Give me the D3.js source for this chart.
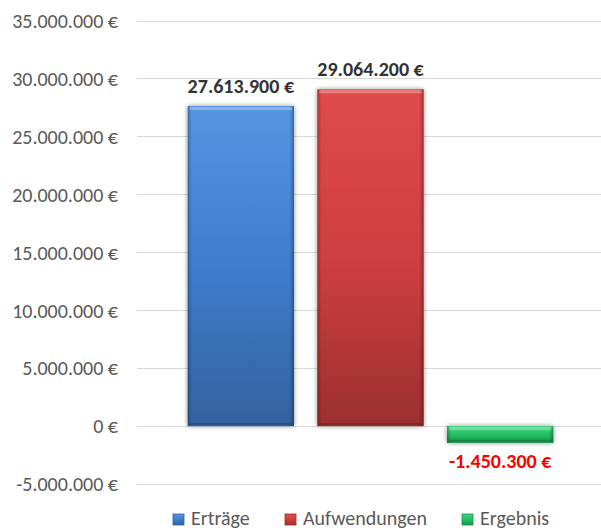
<!DOCTYPE html>
<html><head><meta charset="utf-8">
<script src="https://cdn.jsdelivr.net/npm/d3@7/dist/d3.min.js"></script>
<style>body{margin:0;background:#fff;}svg{display:block;font-family:Carlito, Calibri, Lato, sans-serif;}</style>
</head><body>
<script>
const categories = ["Erträge", "Aufwendungen", "Ergebnis"];
const values = [27613900, 29064200, -1450300];
const tickValues = [-5000000, 0, 5000000, 10000000, 15000000, 20000000, 25000000, 30000000, 35000000];
const colorsTop = ["#5595e0", "#e04a4a", "#3fd57f"];
const colorsMid = ["#3f7dcc", "#cf3f3f", "#25c066"];
const colorsBot = ["#33619f", "#9c2f2f", "#17904a"];
const labelColors = ["#333333", "#333333", "#ff0000"];

const W = 601, H = 531;
const FONT = "Carlito, Calibri, Lato, sans-serif";
const svg = d3.select("body").append("svg").attr("width", W).attr("height", H);
const y = d3.scaleLinear().domain([-5000000, 35000000]).range([484, 20.5]);
const x = d3.scaleBand().domain(categories).range([176, 565]).paddingInner(0.18).paddingOuter(0.09);

const fmt = v => {
  const s = d3.format(",.0f")(Math.abs(v)).replace(/,/g, ".");
  return (v < 0 ? "-" : "") + s + " €";
};

const defs = svg.append("defs");
categories.forEach((c, i) => {
  const g = defs.append("linearGradient").attr("id", "g" + i).attr("x1", 0).attr("x2", 0).attr("y1", 0).attr("y2", 1);
  g.append("stop").attr("offset", "0%").attr("stop-color", colorsTop[i]);
  g.append("stop").attr("offset", "50%").attr("stop-color", colorsMid[i]);
  g.append("stop").attr("offset", "100%").attr("stop-color", colorsBot[i]);
  const h = defs.append("linearGradient").attr("id", "h" + i).attr("x1", 0).attr("x2", 1).attr("y1", 0).attr("y2", 0);
  h.append("stop").attr("offset", "0%").attr("stop-color", "#000").attr("stop-opacity", 0.25);
  h.append("stop").attr("offset", "4%").attr("stop-color", "#000").attr("stop-opacity", 0);
  h.append("stop").attr("offset", "96%").attr("stop-color", "#000").attr("stop-opacity", 0);
  h.append("stop").attr("offset", "100%").attr("stop-color", "#000").attr("stop-opacity", 0.3);
});
const f = defs.append("filter").attr("id", "sh").attr("x", "-20%").attr("y", "-20%").attr("width", "140%").attr("height", "140%");
f.append("feGaussianBlur").attr("in", "SourceAlpha").attr("stdDeviation", 2.5).attr("result", "b");
f.append("feOffset").attr("in", "b").attr("dx", 0).attr("dy", 0).attr("result", "o");
f.append("feComponentTransfer").attr("in", "o").attr("result", "o2").append("feFuncA").attr("type", "linear").attr("slope", 0.45);
const m = f.append("feMerge");
m.append("feMergeNode").attr("in", "o2");
m.append("feMergeNode").attr("in", "SourceGraphic");

// gridlines
svg.append("g").selectAll("line").data(tickValues).join("line")
  .attr("x1", 137).attr("x2", W).attr("y1", d => Math.round(y(d)) + 0.5).attr("y2", d => Math.round(y(d)) + 0.5)
  .attr("stroke", "#d9d9d9").attr("stroke-width", 1);

// axis labels
const yAxis = d3.axisLeft(y).tickValues(tickValues).tickFormat(fmt).tickSize(0).tickPadding(0);
const ag = svg.append("g").attr("transform", "translate(118,0)").call(yAxis);
ag.select(".domain").remove();
ag.selectAll("text").attr("font-size", 20).attr("fill", "#595959").attr("font-family", FONT).attr("dy", "0.34em");

// bars
const bars = svg.append("g").selectAll("g").data(values).join("g").attr("filter", "url(#sh)");
bars.append("rect")
  .attr("x", (d, i) => x(categories[i]))
  .attr("width", x.bandwidth())
  .attr("y", d => y(Math.max(0, d)))
  .attr("height", d => Math.abs(y(d) - y(0)))
  .attr("fill", (d, i) => `url(#g${i})`);
bars.append("rect")
  .attr("x", (d, i) => x(categories[i]))
  .attr("width", x.bandwidth())
  .attr("y", d => y(Math.max(0, d)))
  .attr("height", d => Math.abs(y(d) - y(0)))
  .attr("fill", (d, i) => `url(#h${i})`);
// top bevel highlight
bars.append("rect")
  .attr("x", (d, i) => x(categories[i]) + 2)
  .attr("width", x.bandwidth() - 4)
  .attr("y", d => y(Math.max(0, d)) + 1)
  .attr("height", 3)
  .attr("fill", "#fff").attr("opacity", 0.3);
// bottom bevel
bars.append("rect")
  .attr("x", (d, i) => x(categories[i]) + 2)
  .attr("width", x.bandwidth() - 4)
  .attr("y", d => y(Math.min(0, d)) - 3)
  .attr("height", 2)
  .attr("fill", "#000").attr("opacity", 0.15);

// value labels
svg.append("g").selectAll("text").data(values).join("text")
  .attr("x", (d, i) => x(categories[i]) + x.bandwidth() / 2)
  .attr("y", d => d >= 0 ? y(d) - 13.3 : y(d) + 25.5)
  .attr("text-anchor", "middle")
  .attr("font-size", 20).attr("font-weight", "bold").attr("font-family", FONT)
  .attr("fill", (d, i) => labelColors[i])
  .text(fmt);

// legend
const legendX = [173, 285, 462];
const lg = svg.append("g").selectAll("g").data(categories).join("g")
  .attr("transform", (d, i) => `translate(${legendX[i]},514)`);
lg.append("rect").attr("width", 11).attr("height", 11).attr("fill", (d, i) => `url(#g${i})`)
  .attr("stroke", (d, i) => colorsBot[i]).attr("stroke-width", 0.8);
lg.append("text").attr("x", 18).attr("y", 11).attr("font-size", 20).attr("font-family", FONT).attr("fill", "#595959").text(d => d);
</script>
</body></html>
